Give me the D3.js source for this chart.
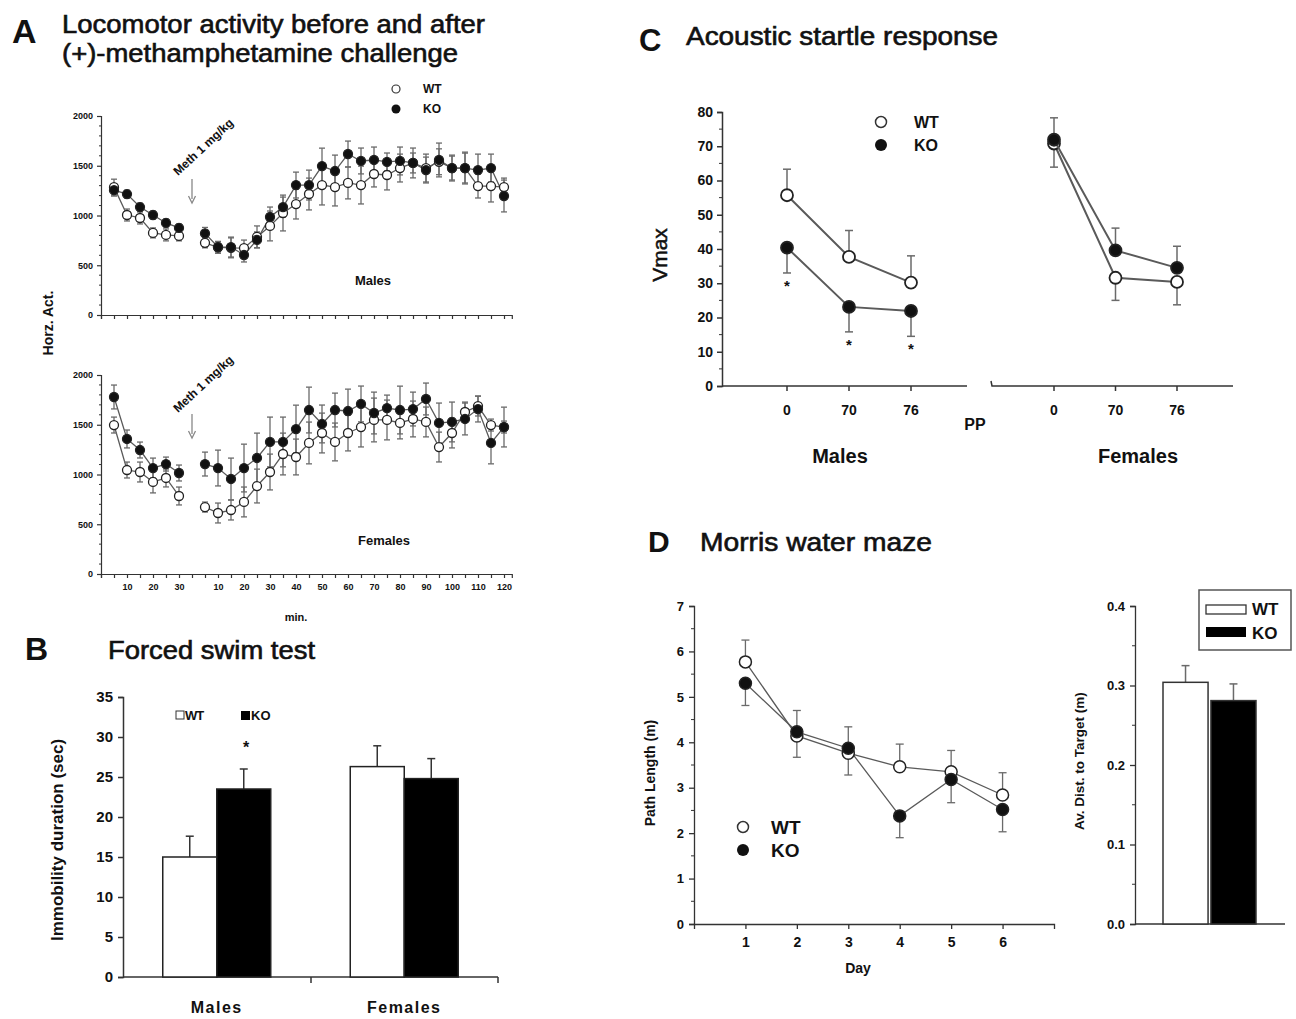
<!DOCTYPE html>
<html><head><meta charset="utf-8">
<script src="https://cdn.jsdelivr.net/npm/d3@7"></script>
<style>body{margin:0;background:#fff} svg{display:block} text{font-family:"Liberation Sans",Arial,sans-serif;fill:#111}</style>
</head><body><svg id="c" width="1296" height="1019"></svg>
<script>
// ---------- Panel A data (locomotor activity) ----------
const preMin  = [5,10,15,20,25,30];
const postMin = [5,10,15,20,25,30,35,40,45,50,55,60,65,70,75,80,85,90,95,100,105,110,115,120];
const preTickLabels  = [10,20,30];
const postTickLabels = [10,20,30,40,50,60,70,80,90,100,110,120];
const yTicksA = [0,500,1000,1500,2000];

const maleWTPre     = [1285,1005,975,825,805,795];
const maleKOPre     = [1255,1215,1085,1005,925,875];
const maleWTPreErr  = [80,60,60,50,60,50];
const maleKOPreErr  = [60,40,40,40,40,40];
const maleWTPost    = [725,680,675,673,785,895,1025,1115,1216,1306,1286,1327,1306,1417,1407,1477,1528,1477,1540,1477,1477,1296,1296,1286];
const maleKOPost    = [820,683,683,603,755,985,1085,1306,1306,1497,1447,1618,1548,1558,1538,1548,1528,1457,1558,1477,1477,1457,1477,1196];
const maleWTPostErr = [50,60,100,80,110,150,180,150,160,200,190,160,190,130,150,140,150,140,130,120,150,120,160,90];
const maleKOPostErr = [60,50,100,70,80,100,100,130,150,180,160,130,130,130,90,140,100,130,170,130,160,160,140,160];

const femWTPre     = [1497,1045,1025,925,965,784];
const femKOPre     = [1779,1357,1246,1065,1105,1015];
const femWTPreErr  = [80,80,100,110,90,90];
const femKOPreErr  = [120,90,80,100,70,80];
const femWTPost    = [673,613,643,724,884,1025,1206,1176,1317,1417,1327,1417,1477,1548,1548,1518,1558,1528,1276,1417,1628,1688,1497,1477];
const femKOPost    = [1105,1065,955,1065,1166,1327,1327,1457,1648,1508,1648,1638,1709,1618,1668,1648,1658,1759,1518,1528,1558,1658,1317,1477];
const femWTPostErr = [50,100,100,150,170,180,210,180,210,200,190,180,200,220,200,160,180,150,150,150,100,100,60,60];
const femKOPostErr = [120,180,210,240,250,250,250,240,230,190,170,220,180,210,130,240,170,160,200,200,160,130,210,200];

// ---------- Panel B data (forced swim) ----------
const bGroups = ["Males","Females"];
const bSeries = ["WT","KO"];
const bWT    = [15.0, 26.3];
const bKO    = [23.5, 24.8];
const bWTErr = [2.6, 2.6];
const bKOErr = [2.5, 2.5];
const bYTicks = [0,5,10,15,20,25,30,35];

// ---------- Panel C data (startle) ----------
const cPP = ["0","70","76"];
const cMaleWT = [55.7, 37.7, 30.2];
const cMaleKO = [40.4, 23.1, 21.9];
const cFemWT  = [70.8, 31.6, 30.4];
const cFemKO  = [71.9, 39.6, 34.5];
const cMaleWTErr = [7.6, 7.7, 7.8];     // + = drawn upward, - = downward
const cMaleKOErr = [-7.4, -7.3, -7.4];
const cFemWTErr  = [-6.9, -6.6, -6.7];
const cFemKOErr  = [6.4, 6.5, 6.3];
const cYTicks = [0,10,20,30,40,50,60,70,80];

// ---------- Panel D data (water maze) ----------
const dDays = [1,2,3,4,5,6];
const dWT = [5.77, 4.14, 3.76, 3.46, 3.35, 2.84];
const dKO = [5.30, 4.23, 3.87, 2.38, 3.18, 2.52];
const dWTErr = [0.48, -0.47, -0.48, 0.50, 0.47, 0.49];
const dKOErr = [-0.49, 0.47, 0.47, -0.48, -0.51, -0.49];
const dYTicks = [0,1,2,3,4,5,6,7];
const dBarSeries = ["WT","KO"];
const dBarVals = [0.304, 0.281];
const dBarErr  = [0.021, 0.021];
const dBarYTicks = [0,0.1,0.2,0.3,0.4];

// ================= drawing =================
const svg = d3.select("#c");
svg.append("rect").attr("width",1296).attr("height",1019).attr("fill","#fff");
const AX = "#333", LINE = "#5a5a5a", ERR = "#6a6a6a";

function text(x,y,s,o={}){
  const t = svg.append("text").attr("x",x).attr("y",y).text(s)
    .attr("font-size",o.size||12).attr("font-weight",o.weight||"normal")
    .attr("text-anchor",o.anchor||"start");
  if(o.len) t.attr("textLength",o.len).attr("lengthAdjust","spacingAndGlyphs");
  if(o.rotate!==undefined) t.attr("transform",`rotate(${o.rotate},${x},${y})`);
  if(o.ls) t.attr("letter-spacing",o.ls);
  if(o.thick) t.attr("stroke","#111").attr("stroke-width",o.thick);
  return t;
}
function styleAxis(g,size,stroke){
  g.select(".domain").attr("stroke",AX).attr("stroke-width",stroke||1.3);
  g.selectAll(".tick line").attr("stroke",AX).attr("stroke-width",stroke||1.3);
  g.selectAll(".tick text").attr("font-size",size).attr("font-weight","bold")
    .attr("fill","#111").attr("font-family","'Liberation Sans',Arial,sans-serif");
}
function minorTicks(scale,x,vals,len,dir){
  svg.append("g").selectAll("line").data(vals).join("line")
    .attr("x1",x).attr("x2",x+(dir||-1)*len).attr("y1",d=>scale(d)).attr("y2",d=>scale(d))
    .attr("stroke",AX).attr("stroke-width",1);
}
function errBars(g,xs,ys,lo,hi,cap,w){
  const d = xs.map((x,i)=>({x,y0:lo[i],y1:hi[i]}));
  g.selectAll(null).data(d).join("line").attr("x1",e=>e.x).attr("x2",e=>e.x)
    .attr("y1",e=>e.y0).attr("y2",e=>e.y1).attr("stroke",ERR).attr("stroke-width",w||1.3);
  return d;
}
function caps(g,xs,ysArr,cap,w){
  const d=[]; xs.forEach((x,i)=>d.push({x,y:ysArr[i]}));
  g.selectAll(null).data(d).join("line").attr("x1",e=>e.x-cap).attr("x2",e=>e.x+cap)
    .attr("y1",e=>e.y).attr("y2",e=>e.y).attr("stroke",ERR).attr("stroke-width",w||1.3);
}
function dots(g,xs,ys,r,filled,sw){
  g.selectAll(null).data(xs.map((x,i)=>[x,ys[i]])).join("circle")
    .attr("cx",d=>d[0]).attr("cy",d=>d[1]).attr("r",r)
    .attr("fill",filled?"#111":"#fff").attr("stroke","#222").attr("stroke-width",sw||1.3);
}
function polyline(g,xs,ys,w){
  g.append("path").attr("d",d3.line()(xs.map((x,i)=>[x,ys[i]])))
    .attr("fill","none").attr("stroke",LINE).attr("stroke-width",w||1.3);
}

// ---------- Panel A ----------
text(12,43,"A",{size:34,weight:"bold"});
text(62,33,"Locomotor activity before and after",{size:25,len:423,thick:0.6});
text(62,62,"(+)-methamphetamine challenge",{size:25,len:396,thick:0.6});

const xA = d3.scaleLinear().domain([0,31.6]).range([101,511.8]);
const preSlot  = preMin.map(m=>m/5);
const postSlot = postMin.map(p=>7+p/5);
const slotLabel = new Map();
preTickLabels.forEach(m=>slotLabel.set(m/5,String(m)));
postTickLabels.forEach(p=>slotLabel.set(7+p/5,String(p)));

function panelA(y0,y1,showLabels,wtPre,koPre,wtPreE,koPreE,wtPost,koPost,wtPostE,koPostE){
  const y = d3.scaleLinear().domain([0,2000]).range([y0,y1]);
  const gy = svg.append("g").attr("transform","translate(101,0)")
    .call(d3.axisLeft(y).tickValues(yTicksA).tickSize(4).tickPadding(4).tickFormat(d3.format("d")));
  styleAxis(gy,9,1.2);
  minorTicks(y,101,d3.range(100,2000,100).filter(v=>v%500),2);
  const gx = svg.append("g").attr("transform",`translate(0,${y0})`)
    .call(d3.axisBottom(xA).tickValues(d3.range(0,32)).tickSize(4).tickPadding(6)
      .tickFormat(d=>showLabels?(slotLabel.get(d)||""):""));
  styleAxis(gx,9,1.2);
  const g = svg.append("g");
  const xsPre = preSlot.map(xA), xsPost = postSlot.map(xA);
  polyline(g,xsPre,wtPre.map(y)); polyline(g,xsPost,wtPost.map(y));
  polyline(g,xsPre,koPre.map(y)); polyline(g,xsPost,koPost.map(y));
  [[xsPre,wtPre,wtPreE],[xsPost,wtPost,wtPostE],[xsPre,koPre,koPreE],[xsPost,koPost,koPostE]].forEach(([xs,v,e])=>{
    const lo=v.map((d,i)=>y(d-e[i])), hi=v.map((d,i)=>y(d+e[i]));
    errBars(g,xs,v,lo,hi); caps(g,xs,lo,3); caps(g,xs,hi,3);
  });
  dots(g,xsPre,wtPre.map(y),4.5,false); dots(g,xsPost,wtPost.map(y),4.5,false);
  dots(g,xsPre,koPre.map(y),4.5,true);  dots(g,xsPost,koPost.map(y),4.5,true);
}
panelA(315,116,false,maleWTPre,maleKOPre,maleWTPreErr,maleKOPreErr,maleWTPost,maleKOPost,maleWTPostErr,maleKOPostErr);
panelA(574,375,true,femWTPre,femKOPre,femWTPreErr,femKOPreErr,femWTPost,femKOPost,femWTPostErr,femKOPostErr);

svg.append("circle").attr("cx",396).attr("cy",89).attr("r",4).attr("fill","#fff").attr("stroke","#333").attr("stroke-width",1.2);
svg.append("circle").attr("cx",396).attr("cy",109).attr("r",4.5).attr("fill","#111");
text(423,93,"WT",{size:12,weight:"bold"});
text(423,113,"KO",{size:12,weight:"bold"});
function meth(x,y,ay){
  text(x,y,"Meth 1 mg/kg",{size:12,weight:"bold",rotate:-43});
  svg.append("line").attr("x1",192).attr("x2",192).attr("y1",ay).attr("y2",ay+20).attr("stroke","#888").attr("stroke-width",1.3);
  svg.append("path").attr("d",`M188.5,${ay+17}L192,${ay+24}L195.5,${ay+17}`).attr("fill","none").attr("stroke","#888").attr("stroke-width",1.3);
}
meth(178,176,179);
meth(178,413,414);
text(373,285,"Males",{size:13,weight:"bold",anchor:"middle"});
text(384,545,"Females",{size:13,weight:"bold",anchor:"middle"});
text(296,621,"min.",{size:11,weight:"bold",anchor:"middle"});
text(53,323,"Horz. Act.",{size:14,weight:"bold",anchor:"middle",rotate:-90});

// ---------- Panel B ----------
text(25,660,"B",{size:32,weight:"bold"});
text(108,659,"Forced swim test",{size:25,len:207,thick:0.6});
const yB = d3.scaleLinear().domain([0,35]).range([977,697]);
const xB = d3.scaleBand().domain(bGroups).range([123,498]);
const xBs = d3.scaleBand().domain(bSeries).range([-54,54]);
const gyB = svg.append("g").attr("transform","translate(123,0)")
  .call(d3.axisLeft(yB).tickValues(bYTicks).tickSize(5).tickPadding(5));
styleAxis(gyB,15,1.5);
svg.append("line").attr("x1",123).attr("x2",498).attr("y1",977).attr("y2",977).attr("stroke",AX).attr("stroke-width",1.5);
[311,498].forEach(x=>svg.append("line").attr("x1",x).attr("x2",x).attr("y1",977).attr("y2",983).attr("stroke",AX).attr("stroke-width",1.5));
const bData = [];
bGroups.forEach((gname,i)=>{
  bData.push({g:gname,s:"WT",v:bWT[i],e:bWTErr[i]});
  bData.push({g:gname,s:"KO",v:bKO[i],e:bKOErr[i]});
});
const bx = d=>xB(d.g)+xB.bandwidth()/2+xBs(d.s)+xBs.bandwidth()/2;
const gB = svg.append("g");
gB.selectAll("line.e").data(bData).join("line")
  .attr("x1",bx).attr("x2",bx)
  .attr("y1",d=>yB(d.v)).attr("y2",d=>yB(d.v+d.e)).attr("stroke","#333").attr("stroke-width",1.5);
gB.selectAll("line.c").data(bData).join("line")
  .attr("x1",d=>bx(d)-4).attr("x2",d=>bx(d)+4)
  .attr("y1",d=>yB(d.v+d.e)).attr("y2",d=>yB(d.v+d.e)).attr("stroke","#333").attr("stroke-width",1.5);
gB.selectAll("rect").data(bData).join("rect")
  .attr("x",d=>xB(d.g)+xB.bandwidth()/2+xBs(d.s)).attr("width",xBs.bandwidth())
  .attr("y",d=>yB(d.v)).attr("height",d=>yB(0)-yB(d.v))
  .attr("fill",d=>d.s==="WT"?"#fff":"#000").attr("stroke","#222").attr("stroke-width",1.5);
gB.selectAll("text.g").data(bGroups).join("text")
  .attr("x",d=>xB(d)+xB.bandwidth()/2).attr("y",1013).attr("text-anchor","middle")
  .attr("font-size",16).attr("font-weight","bold").attr("letter-spacing",1.5).text(d=>d);
text(63,840,"Immobility duration (sec)",{size:17,weight:"bold",anchor:"middle",rotate:-90});
svg.append("rect").attr("x",176).attr("y",711).attr("width",8).attr("height",8).attr("fill","#fff").attr("stroke","#333");
text(185,720,"WT",{size:13,weight:"bold",ls:-1});
svg.append("rect").attr("x",241).attr("y",711).attr("width",9).attr("height",9).attr("fill","#000");
text(251,720,"KO",{size:13,weight:"bold"});
text(246,753,"*",{size:16,weight:"bold",anchor:"middle"});

// ---------- Panel C ----------
text(639,51,"C",{size:31,weight:"bold"});
text(686,45,"Acoustic startle response",{size:25,len:312,thick:0.6});
const yC = d3.scaleLinear().domain([0,80]).range([386,112]);
const xCm = d3.scalePoint().domain(cPP).range([787,911]);
const xCf = d3.scalePoint().domain(cPP).range([1054,1177]);
const gyC = svg.append("g").attr("transform","translate(722,0)")
  .call(d3.axisLeft(yC).tickValues(cYTicks).tickSize(5).tickPadding(4));
styleAxis(gyC,14,1.5);
minorTicks(yC,722,d3.range(5,80,10),3);
svg.append("line").attr("x1",722).attr("x2",967).attr("y1",386).attr("y2",386).attr("stroke",AX).attr("stroke-width",1.5);
svg.append("path").attr("d","M991,381L992,386L1233,386").attr("fill","none").attr("stroke",AX).attr("stroke-width",1.5);
function cAxisTicks(xs){
  svg.append("g").selectAll("line").data(cPP).join("line").attr("x1",d=>xs(d)).attr("x2",d=>xs(d))
    .attr("y1",386).attr("y2",391).attr("stroke",AX).attr("stroke-width",1.5);
  svg.append("g").selectAll("text").data(cPP).join("text").attr("x",d=>xs(d)).attr("y",415)
    .attr("text-anchor","middle").attr("font-size",14).attr("font-weight","bold").text(d=>d);
}
cAxisTicks(xCm); cAxisTicks(xCf);
function cSeries(xs,vals,errs,filled){
  const g = svg.append("g");
  const px = cPP.map(xs), py = vals.map(yC);
  polyline(g,px,py,2);
  const ends = vals.map((v,i)=>yC(v+errs[i]));
  errBars(g,px,py,py,ends,4,1.5); caps(g,px,ends,4,1.5);
  return ()=>dots(g,px,py,6,filled,1.8);
}
const cd = [cSeries(xCm,cMaleWT,cMaleWTErr,false),cSeries(xCm,cMaleKO,cMaleKOErr,true),
            cSeries(xCf,cFemWT,cFemWTErr,false),cSeries(xCf,cFemKO,cFemKOErr,true)];
cd.forEach(f=>f());
cPP.forEach((p,i)=>text(xCm(p),yC(cMaleKO[i]+cMaleKOErr[i])+18,"*",{size:15,weight:"bold",anchor:"middle"}));
svg.append("circle").attr("cx",881).attr("cy",122).attr("r",5.5).attr("fill","#fff").attr("stroke","#333").attr("stroke-width",1.5);
svg.append("circle").attr("cx",881).attr("cy",145).attr("r",6).attr("fill","#111");
text(914,128,"WT",{size:16,weight:"bold"});
text(914,151,"KO",{size:16,weight:"bold"});
text(667,255,"Vmax",{size:21,anchor:"middle",rotate:-90,thick:0.5});
text(975,430,"PP",{size:16,weight:"bold",anchor:"middle"});
text(840,463,"Males",{size:20,weight:"bold",anchor:"middle"});
text(1138,463,"Females",{size:20,weight:"bold",anchor:"middle"});

// ---------- Panel D ----------
text(648,552,"D",{size:30,weight:"bold"});
text(700,551,"Morris water maze",{size:25,len:232,thick:0.6});
const yD = d3.scaleLinear().domain([0,7]).range([924,606]);
const xD = d3.scaleLinear().domain([0,7]).range([694,1054]);
const gyD = svg.append("g").attr("transform","translate(694,0)")
  .call(d3.axisLeft(yD).tickValues(dYTicks).tickSize(5).tickPadding(5).tickFormat(d3.format("d")));
styleAxis(gyD,13,1.3);
minorTicks(yD,694,d3.range(0.5,7,1),3);
const gxD = svg.append("g").attr("transform","translate(0,924)")
  .call(d3.axisBottom(xD).tickValues(dDays).tickSize(5).tickPadding(8).tickFormat(d3.format("d")));
styleAxis(gxD,14,1.3);
{
  const g = svg.append("g");
  const px = dDays.map(xD);
  [[dWT,dWTErr],[dKO,dKOErr]].forEach(([v,e])=>{
    const py=v.map(yD); polyline(g,px,py,1.3);
    const ends=v.map((d,i)=>yD(d+e[i])); errBars(g,px,py,py,ends); caps(g,px,ends,4);
  });
  dots(g,px,dWT.map(yD),6,false,1.5);
  dots(g,px,dKO.map(yD),6,true,1.5);
}
text(858,973,"Day",{size:14,weight:"bold",anchor:"middle"});
text(655,773,"Path Length (m)",{size:14,weight:"bold",anchor:"middle",rotate:-90});
svg.append("circle").attr("cx",743).attr("cy",827).attr("r",5.5).attr("fill","#fff").attr("stroke","#333").attr("stroke-width",1.5);
svg.append("circle").attr("cx",743).attr("cy",850).attr("r",6).attr("fill","#111");
text(771,834,"WT",{size:19,weight:"bold"});
text(771,857,"KO",{size:19,weight:"bold"});

const yDb = d3.scaleLinear().domain([0,0.4]).range([924,606]);
const xDb = d3.scaleBand().domain(dBarSeries).range([1163,1256]).paddingInner(0.06);
const gyDb = svg.append("g").attr("transform","translate(1135,0)")
  .call(d3.axisLeft(yDb).tickValues(dBarYTicks).tickSize(5).tickPadding(5).tickFormat(d3.format(".1f")));
styleAxis(gyDb,13,1.3);
minorTicks(yDb,1135,[0.05,0.15,0.25,0.35],3);
svg.append("line").attr("x1",1135).attr("x2",1285).attr("y1",924).attr("y2",924).attr("stroke",AX).attr("stroke-width",1.3);
{
  const g = svg.append("g");
  const bxs = dBarSeries.map(s=>xDb(s)+xDb.bandwidth()/2);
  const tops = dBarVals.map(yDb), ends = dBarVals.map((v,i)=>yDb(v+dBarErr[i]));
  errBars(g,bxs,tops,tops,ends,4,1.5); caps(g,bxs,ends,4,1.5);
  g.selectAll("rect").data(dBarSeries).join("rect")
    .attr("x",s=>xDb(s)).attr("width",xDb.bandwidth())
    .attr("y",(s,i)=>yDb(dBarVals[i])).attr("height",(s,i)=>yDb(0)-yDb(dBarVals[i]))
    .attr("fill",s=>s==="WT"?"#fff":"#000").attr("stroke","#333").attr("stroke-width",1.5);
}
svg.append("rect").attr("x",1199).attr("y",590).attr("width",92).attr("height",60).attr("fill","#fff").attr("stroke","#555").attr("stroke-width",1.5);
svg.append("rect").attr("x",1206).attr("y",605).attr("width",40).attr("height",9).attr("fill","#fff").attr("stroke","#333").attr("stroke-width",1.3);
svg.append("rect").attr("x",1206).attr("y",627).attr("width",40).attr("height",10).attr("fill","#000");
text(1252,615,"WT",{size:17,weight:"bold"});
text(1252,639,"KO",{size:17,weight:"bold"});
text(1084,761,"Av. Dist. to Target (m)",{size:13.5,weight:"bold",anchor:"middle",rotate:-90});
</script></body></html>
